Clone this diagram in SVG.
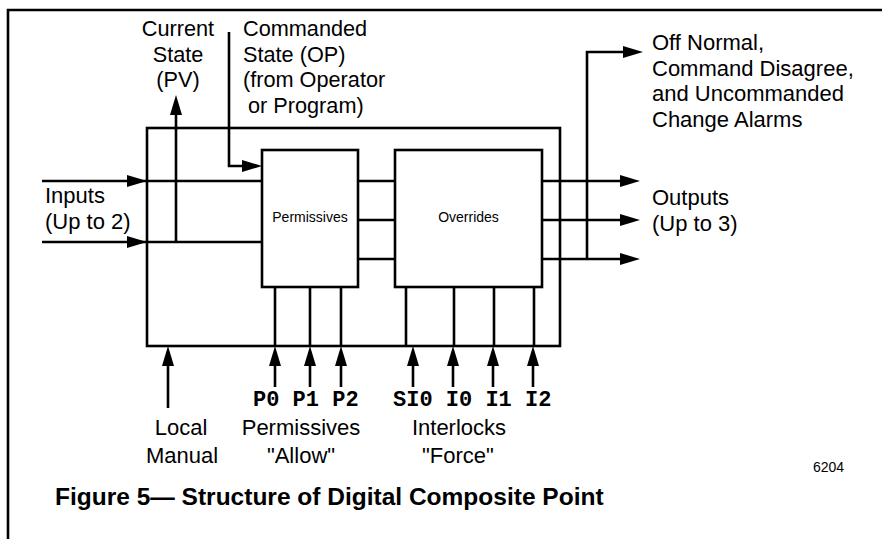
<svg xmlns="http://www.w3.org/2000/svg" width="882" height="539" viewBox="0 0 882 539">
<style>
.ln{fill:none;stroke:#000;stroke-width:2.6}
.bx{fill:#fff;stroke:#000;stroke-width:2.6}
.t{font-family:"Liberation Sans",Arial,sans-serif;font-size:22px;fill:#000}
.tt{font-family:"Liberation Sans",Arial,sans-serif;font-size:21.7px;fill:#000}
.s{font-family:"Liberation Sans",Arial,sans-serif;font-size:14px;fill:#000}
.m{font-family:"Liberation Mono","Courier New",monospace;font-size:22px;font-weight:bold;fill:#000}
.h{font-family:"Liberation Sans",Arial,sans-serif;font-size:24.5px;font-weight:bold;fill:#000}
.c{text-anchor:middle}
</style>
<defs>
<marker id="ah" markerUnits="userSpaceOnUse" markerWidth="20" markerHeight="12" refX="12" refY="6" orient="auto">
<path d="M0,0 L20,6 L0,12 z" fill="#000"/>
</marker>
</defs>
<rect x="0" y="0" width="882" height="539" fill="#fff"/>
<path class="ln" d="M8,539 V10 H882" stroke-width="3"/>
<g id="composite-point">
<rect class="bx" x="147" y="128" width="413" height="218"/>
</g>
<g id="connectors">
<path class="ln" d="M42,181 H139" marker-end="url(#ah)"/>
<path class="ln" d="M139,181 H262"/>
<path class="ln" d="M42,242 H139" marker-end="url(#ah)"/>
<path class="ln" d="M139,242 H262"/>
<path class="ln" d="M176,242 V103" marker-end="url(#ah)"/>
<path class="ln" d="M229,32 V166 H254" marker-end="url(#ah)"/>
<path class="ln" d="M358,181 H395 M358,220 H395 M358,259 H395"/>
<path class="ln" d="M542,181 H632" marker-end="url(#ah)"/>
<path class="ln" d="M542,220 H632" marker-end="url(#ah)"/>
<path class="ln" d="M542,259 H632" marker-end="url(#ah)"/>
<path class="ln" d="M587,259 V52 H635" marker-end="url(#ah)"/>
<path class="ln" d="M275,287 V346 M310,287 V346 M341,287 V346 M406,287 V346 M454,287 V346 M494,287 V346 M534,287 V346"/>
<path class="ln" d="M168,408 V354" marker-end="url(#ah)"/>
<path class="ln" d="M275,387 V354" marker-end="url(#ah)"/>
<path class="ln" d="M310,387 V354" marker-end="url(#ah)"/>
<path class="ln" d="M341,387 V354" marker-end="url(#ah)"/>
<path class="ln" d="M413,387 V354" marker-end="url(#ah)"/>
<path class="ln" d="M453,387 V354" marker-end="url(#ah)"/>
<path class="ln" d="M493,387 V354" marker-end="url(#ah)"/>
<path class="ln" d="M533,387 V354" marker-end="url(#ah)"/>
</g>
<g id="permissives">
<rect class="bx" x="262" y="150" width="96" height="137"/>
<text class="s c" x="310" y="222">Permissives</text>
</g>
<g id="overrides">
<rect class="bx" x="395" y="150" width="147" height="137"/>
<text class="s c" x="468.5" y="222">Overrides</text>
</g>
<g id="current-state">
<text class="tt c" x="178" y="36">Current</text>
<text class="tt c" x="178" y="62">State</text>
<text class="tt c" x="178" y="87">(PV)</text>
</g>
<g id="commanded-state">
<text class="tt" x="243" y="36">Commanded</text>
<text class="tt" x="243" y="62">State (OP)</text>
<text class="tt" x="243" y="87">(from Operator</text>
<text class="tt" x="248" y="113">or Program)</text>
</g>
<g id="inputs">
<text class="t" x="45" y="203">Inputs</text>
<text class="t" x="45" y="229">(Up to 2)</text>
</g>
<g id="alarms">
<text class="t" x="652" y="50">Off Normal,</text>
<text class="t" x="652" y="76">Command Disagree,</text>
<text class="t" x="652" y="101">and Uncommanded</text>
<text class="t" x="652" y="127">Change Alarms</text>
</g>
<g id="outputs">
<text class="t" x="652" y="205">Outputs</text>
<text class="t" x="652" y="231">(Up to 3)</text>
</g>
<g id="local-manual">
<text class="t c" x="181" y="435">Local</text>
<text class="t c" x="182" y="463">Manual</text>
</g>
<g id="permissive-inputs">
<text class="m" x="253" y="406">P0 P1 P2</text>
<text class="t c" x="301" y="435">Permissives</text>
<text class="t c" x="301" y="463">"Allow"</text>
</g>
<g id="interlock-inputs">
<text class="m" x="393" y="406">SI0 I0 I1 I2</text>
<text class="t c" x="459" y="435">Interlocks</text>
<text class="t c" x="458" y="463">"Force"</text>
</g>
<text class="s" x="813" y="472">6204</text>
<text class="h" x="55" y="505">Figure 5— Structure of Digital Composite Point</text>
</svg>
